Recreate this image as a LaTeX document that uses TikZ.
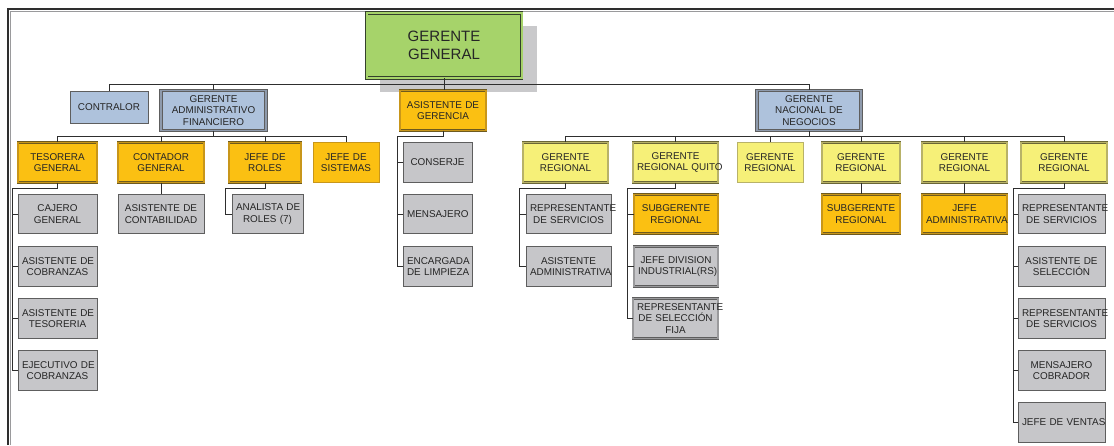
\documentclass[tikz,border=0pt]{standalone}
\usepackage{fontspec}
\setmainfont{Liberation Sans}
\usetikzlibrary{calc}

\definecolor{txt}{HTML}{262626}
\definecolor{cline}{HTML}{2E2E2E}
\definecolor{cgray}{HTML}{C6C6C9}
\definecolor{gline}{HTML}{5E5E5E}
\definecolor{gmid}{HTML}{9A9A9C}
\definecolor{cblue}{HTML}{AEC2DC}
\definecolor{bmid}{HTML}{8E9AAC}
\definecolor{corange}{HTML}{FBC012}
\definecolor{obrd}{HTML}{6E5A1E}
\definecolor{omid}{HTML}{C8961A}
\definecolor{cyellow}{HTML}{F6F078}
\definecolor{ybrd}{HTML}{6A6636}
\definecolor{ymid}{HTML}{B8B268}
\definecolor{cgreen}{HTML}{A6D36A}
\definecolor{gbrd}{HTML}{34402C}
\definecolor{shadowgray}{HTML}{C9C9CB}

\begin{document}
\begin{tikzpicture}[x=1pt,y=-1pt,
  box/.style={rectangle, inner xsep=4pt, inner ysep=0pt, minimum height=39.5pt,
    align=center, text=txt, font=\fontsize{9.9}{11.5}\selectfont,
    execute at begin node={\hyphenpenalty=10000\exhyphenpenalty=10000}},
  w/.code={\pgfmathsetmacro\boxtw{#1-8}%
    \edef\setw{\noexpand\pgfkeysalso{minimum width=#1pt,text width=\boxtw pt}}\setw},
  dbl/.style={line width=0.7pt, double distance=1.3pt},
  graybox/.style={box, fill=cgray, draw=gline, line width=0.9pt},
  graydbl/.style={box, fill=cgray, draw=gline, double=gmid, dbl},
  bluebox/.style={box, fill=cblue, draw=gline, line width=0.9pt},
  bluedbl/.style={box, fill=cblue, draw=gline, double=bmid, line width=0.9pt, double distance=1.4pt},
  orangebox/.style={box, fill=corange, draw=omid, line width=0.9pt},
  orangedbl/.style={box, fill=corange, draw=obrd, double=omid, dbl},
  yellowbox/.style={box, fill=cyellow, draw=ymid, line width=0.9pt},
  yellowdbl/.style={box, fill=cyellow, draw=ybrd, double=ymid, dbl},
  ggbox/.style={box, fill=cgreen, draw=gbrd, double=cgreen, line width=0.8pt,
    double distance=2pt, font=\fontsize{15}{17.5}\selectfont},
  conn/.style={draw=cline, line width=0.9pt},
  frame/.style={draw=cline, line width=1.5pt}
]
\useasboundingbox (0,0) rectangle (1114,445);
\fill[white] (0,0) rectangle (1114,445);

% page frame
\draw[frame] (8,445) -- (8,9) -- (1114,9);
\draw[gmid, line width=0.6pt] (10.2,445) -- (10.2,11.2) -- (1114,11.2);

% shadow behind the top box
\fill[shadowgray] (380,26) rectangle (537,92);

% level 0 and 1
\node[ggbox, w=155, minimum height=65pt] (gg) at (444,45.5) {GERENTE\\GENERAL};
\node[bluebox, w=78, minimum height=32pt] (contr) at (109,107) {CONTRALOR};
\node[bluedbl, w=105] (gaf) at (213.5,110.5) {GERENTE\\ADMINISTRATIVO\\FINANCIERO};
\node[orangedbl, w=86] (asst) at (443,110.5) {ASISTENTE~DE\\GERENCIA};
\node[bluedbl, w=104] (gnn) at (809,110.5) {GERENTE\\NACIONAL~DE\\NEGOCIOS};

% level 2
\node[orangedbl, w=79] (tes) at (57.5,162.5) {TESORERA\\GENERAL};
\node[orangedbl, w=86] (con) at (161,162.5) {CONTADOR\\GENERAL};
\node[orangedbl, w=72] (rol) at (265,162.5) {JEFE~DE\\ROLES};
\node[orangebox, w=66] (sis) at (346,162.5) {JEFE~DE\\SISTEMAS};
\node[graybox, w=69] (cons) at (437.5,162.5) {CONSERJE};
\node[yellowdbl, w=85] (gr1) at (565.5,162.5) {GERENTE\\REGIONAL};
\node[yellowdbl, w=85] (grq) at (675.5,162.5) {GERENTE\\REGIONAL~QUITO};
\node[yellowbox, w=66] (gr3) at (770,162.5) {GERENTE\\REGIONAL};
\node[yellowdbl, w=78] (gr4) at (861,162.5) {GERENTE\\REGIONAL};
\node[yellowdbl, w=85] (gr5) at (964.5,162.5) {GERENTE\\REGIONAL};
\node[yellowdbl, w=86] (gr6) at (1064,162.5) {GERENTE\\REGIONAL};

% level 3
\node[graybox, w=79] (caj) at (57.5,214) {CAJERO\\GENERAL};
\node[graybox, w=86] (acont) at (161,214) {ASISTENTE~DE\\CONTABILIDAD};
\node[graybox, w=71] (ana) at (267.5,214) {ANALISTA~DE\\ROLES~(7)};
\node[graybox, w=69] (men) at (437.5,214) {MENSAJERO};
\node[graybox, w=85] (rs1) at (568.5,214) {REPRESENTANTE\\DE~SERVICIOS};
\node[orangedbl, w=84] (sub1) at (676,214) {SUBGERENTE\\REGIONAL};
\node[orangedbl, w=78] (sub2) at (861,214) {SUBGERENTE\\REGIONAL};
\node[orangedbl, w=85] (jadm) at (964.5,214) {JEFE\\ADMINISTRATIVA};
\node[graybox, w=87] (rs2) at (1061.5,214) {REPRESENTANTE\\DE~SERVICIOS};

% level 4
\node[graybox, w=79] (acob) at (57.5,266.5) {ASISTENTE~DE\\COBRANZAS};
\node[graybox, w=69] (enc) at (437.5,266.5) {ENCARGADA\\DE~LIMPIEZA};
\node[graybox, w=85] (aadm) at (568.5,266.5) {ASISTENTE\\ADMINISTRATIVA};
\node[graydbl, w=84] (jdiv) at (676,266.5) {JEFE~DIVISION\\INDUSTRIAL(RS)};
\node[graybox, w=87] (asel) at (1061.5,266.5) {ASISTENTE~DE\\SELECCIÓN};

% level 5 and below
\node[graybox, w=79] (ates) at (57.5,318.5) {ASISTENTE~DE\\TESORERIA};
\node[graydbl, w=85] (rsel) at (675.5,318.5) {REPRESENTANTE\\DE~SELECCIÓN\\FIJA};
\node[graybox, w=87] (rs3) at (1061.5,318.5) {REPRESENTANTE\\DE~SERVICIOS};
\node[graybox, w=79] (ejec) at (57.5,370.5) {EJECUTIVO~DE\\COBRANZAS};
\node[graybox, w=87] (mcob) at (1061.5,370.5) {MENSAJERO\\COBRADOR};
\node[graybox, w=87] (jven) at (1061.5,422.5) {JEFE~DE~VENTAS};

% bus levels and side rails
\coordinate (b1) at (0,84);
\coordinate (b2) at (0,136);
\coordinate (tesR) at (12,188);
\coordinate (rolR) at (225,188);
\coordinate (asstR) at (397,136);
\coordinate (gr1R) at (519,188);
\coordinate (grqR) at (627,188);
\coordinate (gr6R) at (1013,188);

% top level bus
\draw[conn] (contr.north) -- (contr.north |- b1) -| (gnn.north);
\draw[conn] (gg.south) -- (gg.south |- asst.north);
\draw[conn] (gaf.north) -- (gaf.north |- b1);

% finance branch
\draw[conn] (tes.north) -- (tes.north |- b2) -| (sis.north);
\draw[conn] (gaf.south) -- (gaf.south |- b2);
\draw[conn] (con.north) -- (con.north |- b2);
\draw[conn] (rol.north) -- (rol.north |- b2);

% business branch
\draw[conn] (gr1.north) -- (gr1.north |- b2) -| (gr6.north);
\draw[conn] (gnn.south) -- (gnn.south |- b2);
\draw[conn] (grq.north) -- (grq.north |- b2);
\draw[conn] (gr3.north) -- (gr3.north |- b2);
\draw[conn] (gr4.north) -- (gr4.north |- b2);
\draw[conn] (gr5.north) -- (gr5.north |- b2);

% treasury
\draw[conn] (tes.south) |- (tesR) -- (tesR |- ejec.west) -- (ejec.west);
\draw[conn] (tesR |- caj.west) -- (caj.west);
\draw[conn] (tesR |- acob.west) -- (acob.west);
\draw[conn] (tesR |- ates.west) -- (ates.west);

% accounting and payroll
\draw[conn] (con.south) -- (acont.north);
\draw[conn] (rol.south) |- (rolR) -- (rolR |- ana.west) -- (ana.west);

% management assistant
\draw[conn] (asst.south) |- (asstR) -- (asstR |- enc.west) -- (enc.west);
\draw[conn] (asstR |- cons.west) -- (cons.west);
\draw[conn] (asstR |- men.west) -- (men.west);

% regional managers
\draw[conn] (gr1.south) |- (gr1R) -- (gr1R |- aadm.west) -- (aadm.west);
\draw[conn] (gr1R |- rs1.west) -- (rs1.west);
\draw[conn] (grq.south) |- (grqR) -- (grqR |- rsel.west) -- (rsel.west);
\draw[conn] (grqR |- sub1.west) -- (sub1.west);
\draw[conn] (grqR |- jdiv.west) -- (jdiv.west);
\draw[conn] (gr4.south) -- (sub2.north);
\draw[conn] (gr5.south) -- (jadm.north);
\draw[conn] (gr6.south) |- (gr6R) -- (gr6R |- jven.west) -- (jven.west);
\draw[conn] (gr6R |- rs2.west) -- (rs2.west);
\draw[conn] (gr6R |- asel.west) -- (asel.west);
\draw[conn] (gr6R |- rs3.west) -- (rs3.west);
\draw[conn] (gr6R |- mcob.west) -- (mcob.west);
\end{tikzpicture}
\end{document}
